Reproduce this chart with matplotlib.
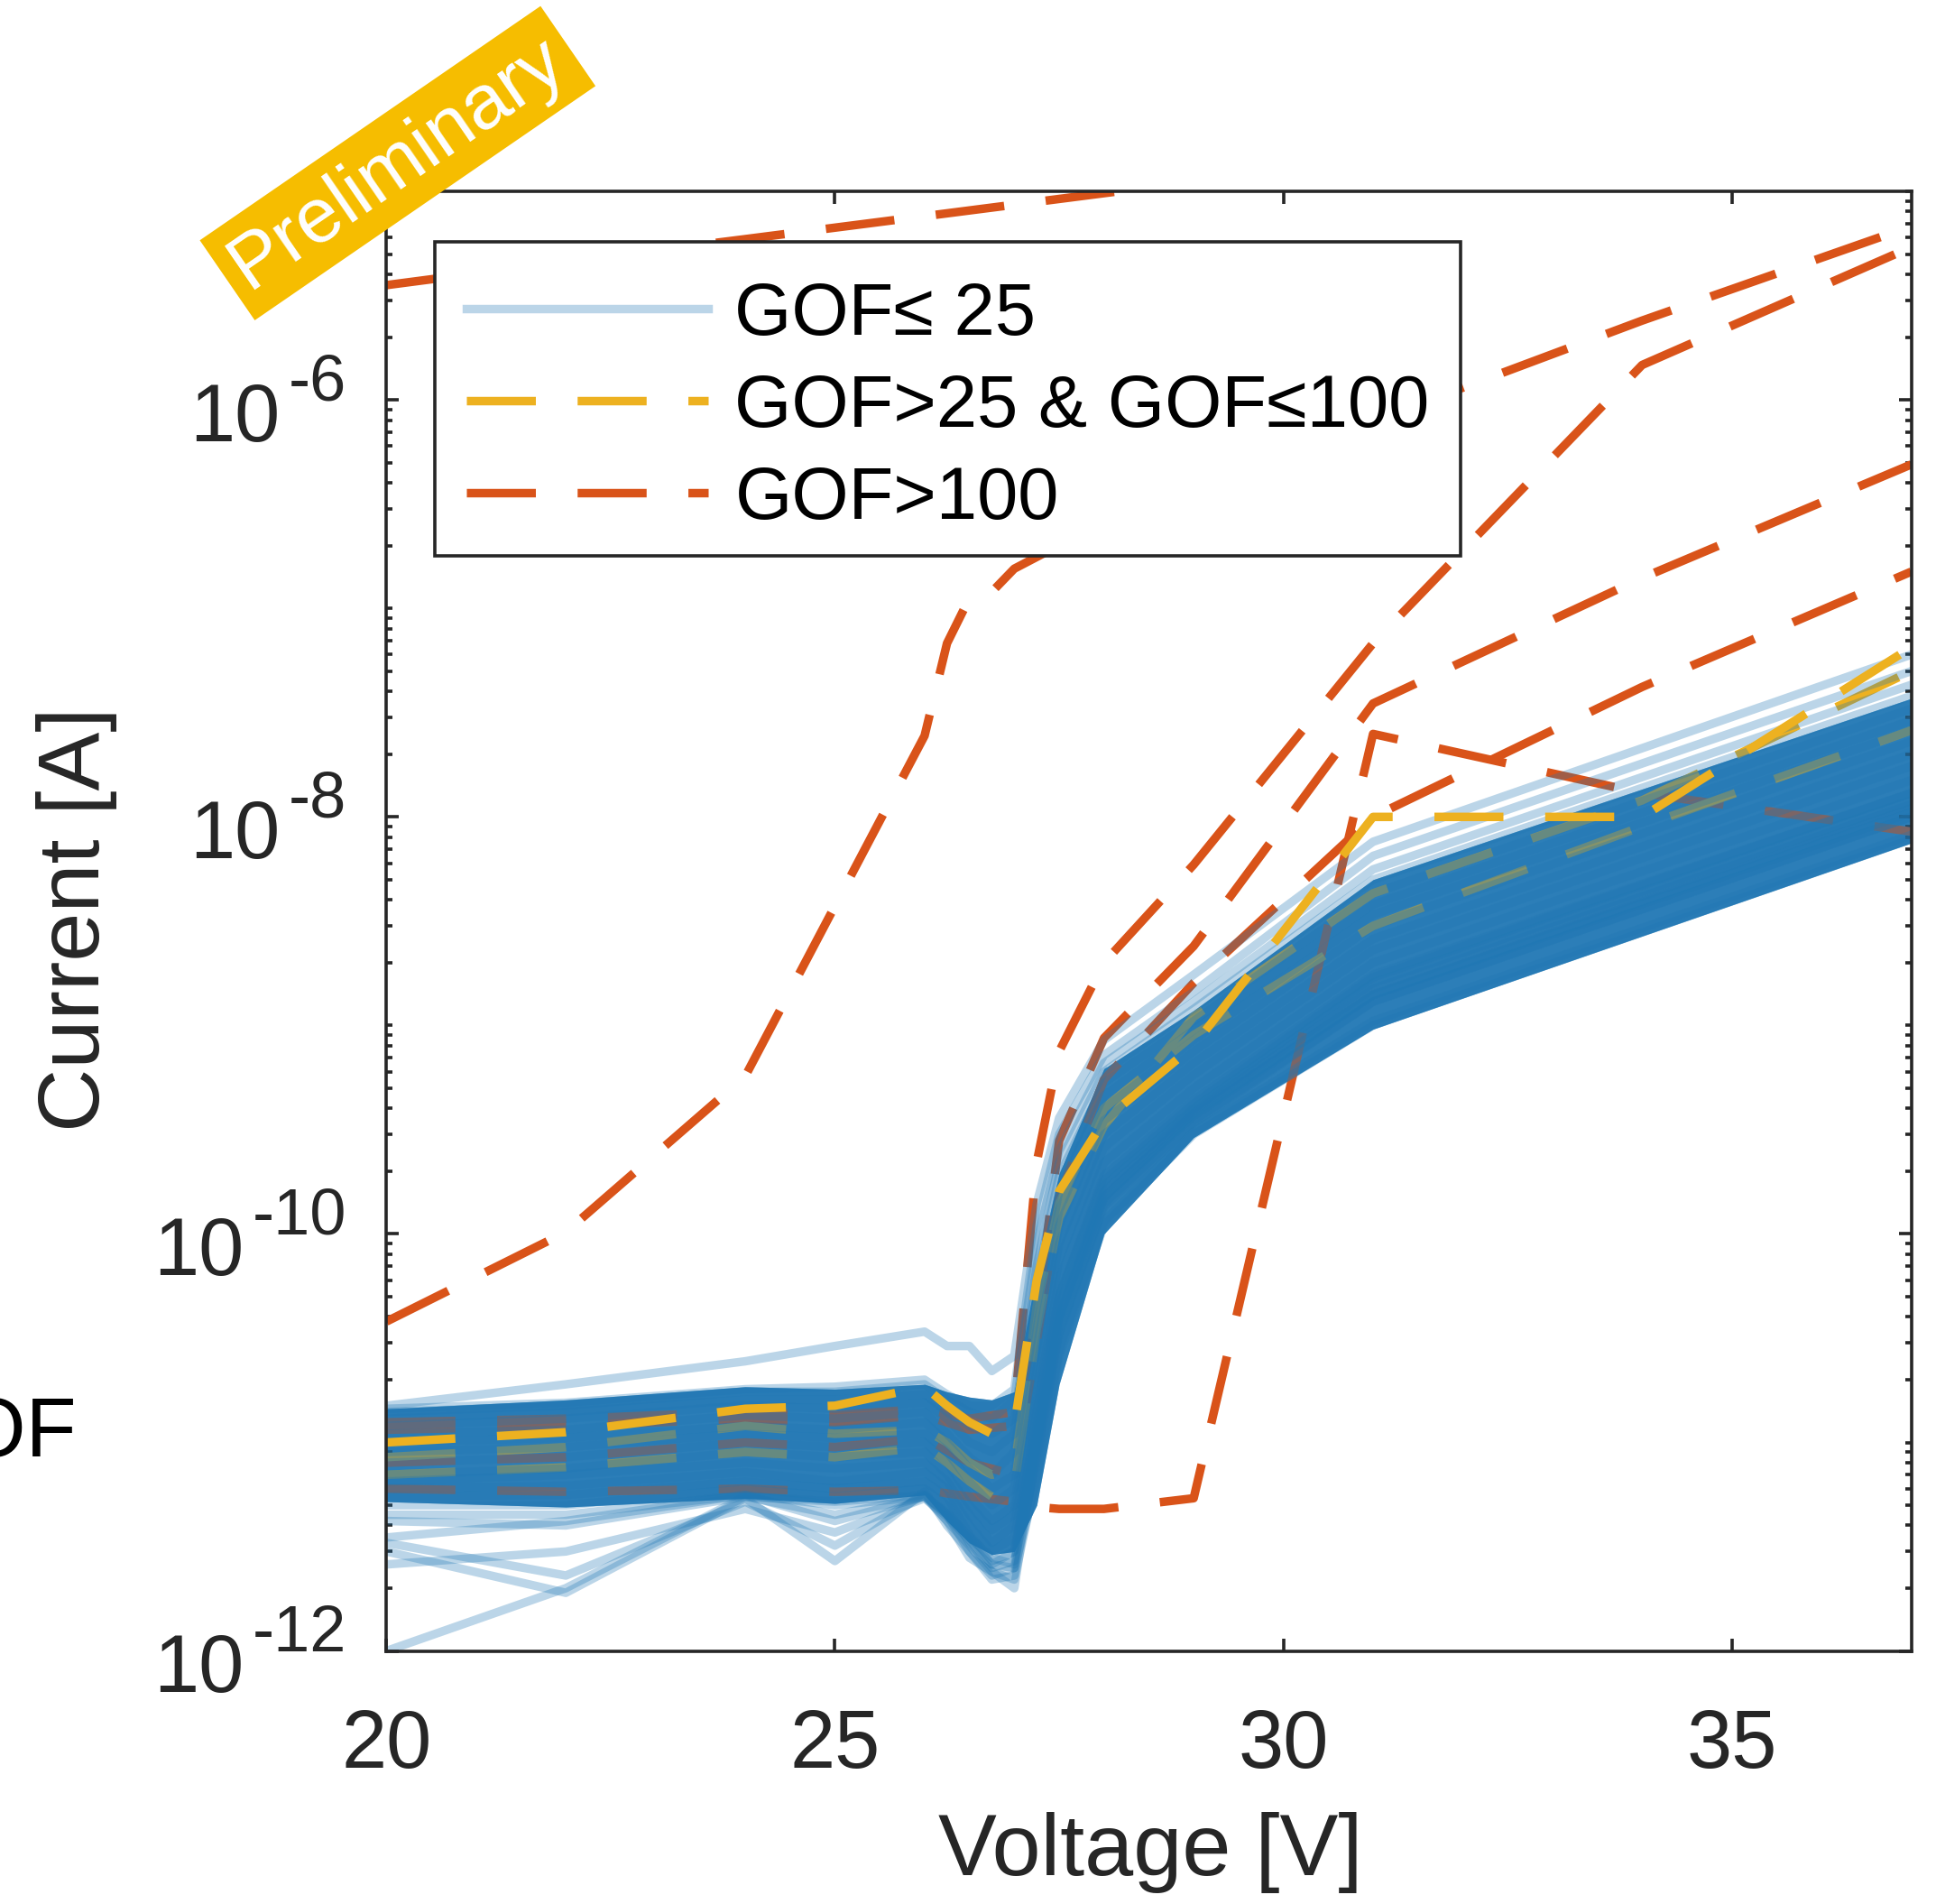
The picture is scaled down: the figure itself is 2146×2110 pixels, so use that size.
import matplotlib
matplotlib.use('Agg')
import matplotlib.pyplot as plt
from matplotlib.ticker import FixedLocator, LogLocator, NullFormatter
import matplotlib.transforms as mtransforms
import numpy as np

plt.rcParams['font.family'] = ['Liberation Sans', 'DejaVu Sans']

# ---------------- data ----------------
x_ticks = [20, 25, 30, 35]
y_ticks = [1e-12, 1e-10, 1e-8, 1e-6]
y_tick_exponents = ['-12', '-10', '-8', '-6']
legend_labels = ['GOF\u2264 25', 'GOF>25 & GOF\u2264100', 'GOF>100']

voltage_blue = [20, 22, 24, 25, 26, 26.25, 26.5, 26.75, 27, 27.25, 27.5, 28, 29, 31, 37]
band_upper = [1.45e-11, 1.6e-11, 1.85e-11, 1.8e-11, 1.9e-11, 1.75e-11, 1.65e-11, 1.6e-11, 1.75e-11,
              6.6e-11, 1.95e-10, 6.2e-10, 1.18e-9, 5.0e-9, 3.7e-8]
band_lower = [5.2e-12, 4.9e-12, 5.4e-12, 5.1e-12, 5.6e-12, 4.2e-12, 3.3e-12, 2.9e-12, 3.0e-12,
              5.0e-12, 1.9e-11, 1.0e-10, 2.9e-10, 9.6e-10, 7.5e-9]

blue_01 = [1.5e-11, 1.9e-11, 2.45e-11, 2.9e-11, 3.4e-11, 2.9e-11, 2.9e-11, 2.2e-11, 2.6e-11, 1.4e-10, 3.6e-10, 8.5e-10, 1.75e-9, 7.6e-9, 6.0e-8]
blue_02 = [1.45e-11, 1.55e-11, 1.8e-11, 1.85e-11, 2.0e-11, 1.7e-11, 1.5e-11, 1.5e-11, 1.8e-11, 1.1e-10, 3.0e-10, 7.2e-10, 1.45e-9, 6.5e-9, 5.0e-8]
blue_03 = [1.4e-11, 1.5e-11, 1.75e-11, 1.75e-11, 1.9e-11, 1.6e-11, 1.4e-11, 1.3e-11, 1.6e-11, 9e-11, 2.5e-10, 6.6e-10, 1.3e-9, 5.6e-9, 4.3e-8]
blue_04 = [1.3e-11, 1.4e-11, 1.6e-11, 1.6e-11, 1.7e-11, 1.4e-11, 1.2e-11, 1.1e-11, 1.3e-11, 7e-11, 2.2e-10, 6.0e-10, 1.2e-9, 5.0e-9, 3.8e-8]
blue_05 = [1.2e-11, 1.3e-11, 1.5e-11, 1.45e-11, 1.55e-11, 1.3e-11, 1.0e-11, 9e-12, 1.1e-11, 6e-11, 1.9e-10, 5.3e-10, 1.05e-9, 4.3e-9, 3.3e-8]
blue_06 = [1.1e-11, 1.15e-11, 1.35e-11, 1.3e-11, 1.4e-11, 1.1e-11, 8.5e-12, 7e-12, 9e-12, 4.5e-11, 1.6e-10, 4.6e-10, 9.5e-10, 3.8e-9, 2.9e-8]
blue_07 = [1.0e-11, 1.05e-11, 1.2e-11, 1.15e-11, 1.25e-11, 1.0e-11, 7.5e-12, 6e-12, 7e-12, 3.5e-11, 1.3e-10, 4.0e-10, 8.5e-10, 3.4e-9, 2.6e-8]
blue_08 = [9e-12, 9.5e-12, 1.1e-11, 1.05e-11, 1.1e-11, 9e-12, 6.5e-12, 5e-12, 6e-12, 2.8e-11, 1.1e-10, 3.5e-10, 7.5e-10, 3.0e-9, 2.3e-8]
blue_09 = [8e-12, 8.5e-12, 1.0e-11, 9.5e-12, 1.0e-11, 8e-12, 5.5e-12, 4.2e-12, 5e-12, 2.2e-11, 9e-11, 3.0e-10, 6.6e-10, 2.6e-9, 2.0e-8]
blue_10 = [7e-12, 7.5e-12, 9e-12, 8.5e-12, 9e-12, 7e-12, 5e-12, 3.8e-12, 4.5e-12, 1.8e-11, 7.5e-11, 2.6e-10, 5.8e-10, 2.3e-9, 1.75e-8]
blue_11 = [6.5e-12, 7e-12, 8e-12, 7.5e-12, 8e-12, 6.5e-12, 4.5e-12, 3.3e-12, 4e-12, 1.5e-11, 6e-11, 2.2e-10, 5.0e-10, 2.0e-9, 1.5e-8]
blue_12 = [6e-12, 6.2e-12, 7.2e-12, 6.5e-12, 7.2e-12, 6e-12, 4e-12, 3e-12, 3.5e-12, 1.2e-11, 5e-11, 1.9e-10, 4.4e-10, 1.75e-9, 1.3e-8]
blue_13 = [5.5e-12, 5.6e-12, 6.5e-12, 6e-12, 6.5e-12, 5.5e-12, 3.6e-12, 2.7e-12, 3.0e-12, 1.0e-11, 4e-11, 1.6e-10, 3.9e-10, 1.5e-9, 1.15e-8]
blue_14 = [5e-12, 5e-12, 6e-12, 5.5e-12, 6e-12, 5e-12, 3.3e-12, 2.5e-12, 2.7e-12, 8e-12, 3.3e-11, 1.35e-10, 3.4e-10, 1.3e-9, 1.0e-8]
blue_15 = [4.5e-12, 4.5e-12, 5.6e-12, 5e-12, 5.5e-12, 4.5e-12, 3.0e-12, 2.3e-12, 2.5e-12, 6.5e-12, 2.6e-11, 1.1e-10, 3.0e-10, 1.0e-9, 7.8e-9]
blue_16 = [4.2e-12, 4.0e-12, 5.5e-12, 4.5e-12, 5.5e-12, 4.2e-12, 2.8e-12, 2.4e-12, 2.2e-12, 7e-12, 2.8e-11, 1.15e-10, 3.1e-10, 1.05e-9, 8.2e-9]
blue_17 = [1.0e-12, 2.0e-12, 5.5e-12, 5.2e-12, 5.6e-12, 4.5e-12, 3.5e-12, 2.6e-12, 3e-12, 1.1e-11, 4e-11, 1.5e-10, 3.8e-10, 1.4e-9, 1.1e-8]
blue_18 = [3.0e-12, 1.9e-12, 5.4e-12, 2.7e-12, 5.8e-12, 4.0e-12, 3.0e-12, 2.2e-12, 2.3e-12, 9e-12, 3.5e-11, 1.4e-10, 3.5e-10, 1.3e-9, 1.0e-8]
blue_19 = [3.3e-12, 2.3e-12, 5.2e-12, 3.2e-12, 5.6e-12, 4.2e-12, 3.2e-12, 2.4e-12, 2.0e-12, 1.0e-11, 3.8e-11, 1.5e-10, 3.7e-10, 1.4e-9, 1.05e-8]
blue_20 = [2.6e-12, 3.0e-12, 4.8e-12, 3.7e-12, 5.4e-12, 4.4e-12, 3.4e-12, 2.6e-12, 2.5e-12, 1.2e-11, 4.5e-11, 1.7e-10, 4.0e-10, 1.6e-9, 1.2e-8]
blue_21 = [3.5e-12, 4.2e-12, 5.6e-12, 4.2e-12, 5.5e-12, 4.6e-12, 3.5e-12, 2.8e-12, 2.6e-12, 1.4e-11, 5e-11, 1.8e-10, 4.2e-10, 1.7e-9, 1.3e-8]

voltage_yellow = [20, 22, 24, 25, 26, 26.25, 26.5, 26.75, 27, 27.25, 27.5, 28, 29, 31, 34, 37]
yellow_1 = [1.0e-11, 1.12e-11, 1.45e-11, 1.5e-11, 1.85e-11, 1.5e-11, 1.25e-11, 1.1e-11, 1.2e-11, 6.0e-11, 1.6e-10, 3.5e-10, 8.0e-10, 1.0e-8, 1.0e-8, 6.5e-8]
yellow_2 = [7.0e-12, 7.6e-12, 9.0e-12, 8.5e-12, 9.5e-12, 8.0e-12, 6.5e-12, 5.5e-12, 6.0e-12, 3.5e-11, 1.2e-10, 3.3e-10, 1.1e-9, 4.3e-9, 1.2e-8, 5.0e-8]
yellow_3 = [8.5e-12, 9.5e-12, 1.2e-11, 1.1e-11, 1.15e-11, 1.0e-11, 8e-12, 7e-12, 7.5e-12, 4.5e-11, 1.4e-10, 4.0e-10, 9.0e-10, 3.0e-9, 9e-9, 2.6e-8]

voltage_orange_top = [20, 22, 24, 26, 28, 30, 34, 37]
orange_1 = [3.55e-6, 4.6e-6, 5.9e-6, 7.6e-6, 9.8e-6, 1.26e-5, 2.0e-5, 2.8e-5]
voltage_orange_2 = [20, 22, 24, 26, 26.25, 26.5, 26.75, 27, 28, 29, 31, 34, 37]
orange_2 = [3.8e-11, 1.02e-10, 5.7e-10, 2.45e-8, 6.8e-8, 1.12e-7, 1.2e-7, 1.55e-7, 2.6e-7, 3.8e-7, 7.9e-7, 2.4e-6, 6.8e-6]
voltage_orange = [20, 22, 24, 25, 26, 26.5, 27, 27.25, 27.5, 28, 29, 31, 34, 37]
orange_3 = [1.25e-11, 1.3e-11, 1.4e-11, 1.35e-11, 1.45e-11, 1.3e-11, 1.4e-11, 2.2e-10, 7.5e-10, 2.0e-9, 5.9e-9, 6.8e-8, 1.47e-6, 5.4e-6]
orange_4 = [1.15e-11, 1.2e-11, 1.3e-11, 1.25e-11, 1.35e-11, 1.15e-11, 1.2e-11, 4.0e-11, 2.8e-10, 8.7e-10, 2.4e-9, 3.5e-8, 1.4e-7, 4.9e-7]
orange_5 = [8e-12, 8.5e-12, 1.0e-11, 9.5e-12, 1.05e-11, 8e-12, 7e-12, 3e-11, 1.5e-10, 5.5e-10, 1.6e-9, 1.0e-8, 4.2e-8, 1.5e-7]
orange_6 = [6.0e-12, 5.8e-12, 6.0e-12, 5.8e-12, 5.9e-12, 5.5e-12, 5.2e-12, 4.9e-12, 4.8e-12, 4.8e-12, 5.4e-12, 2.5e-8, 1.3e-8, 8.5e-9]

# ---------------- style ----------------
BLUE = '#1f77b4'
ORANGE = '#D95319'
YELLOW = '#EDB120'
DARK = '#262626'
LW = 3.4
DASH = (8.1, 4.9)

fig = plt.figure(figsize=(10.73, 10.55), dpi=200)
ax = fig.add_axes([0.1996, 0.1329, 0.7876, 0.7666])
ax.set_yscale('log')
ax.set_xlim(20, 37)
ax.set_ylim(1e-12, 1e-5)

# dense core of the GOF<=25 family
ax.fill_between(voltage_blue, band_lower, band_upper, color=BLUE, alpha=0.88, lw=0, zorder=1)

# GOF>100 curves
orange_handles = []
orange_handles += ax.plot(voltage_orange_top, orange_1, color=ORANGE, lw=LW, dashes=DASH, zorder=2)
orange_handles += ax.plot(voltage_orange_2, orange_2, color=ORANGE, lw=LW, dashes=DASH, zorder=2)
for curve in [orange_3, orange_4, orange_5, orange_6]:
    orange_handles += ax.plot(voltage_orange, curve, color=ORANGE, lw=LW, dashes=DASH, zorder=2)

# GOF 25..100 curves (two of them underneath the blue family)
yellow_handles = []
for curve in [yellow_2, yellow_3]:
    yellow_handles += ax.plot(voltage_yellow, curve, color=YELLOW, lw=LW, dashes=DASH, zorder=2)

# blue overlay that mutes the curves running through the dense core
ax.fill_between(voltage_blue, band_lower, band_upper, color=BLUE, alpha=0.5, lw=0, zorder=2.5)

# GOF<=25 curves
blue_handles = []
for curve in [blue_01, blue_02, blue_03, blue_04, blue_05, blue_06, blue_07, blue_08, blue_09, blue_10,
              blue_11, blue_12, blue_13, blue_14, blue_15, blue_16, blue_17, blue_18, blue_19, blue_20, blue_21]:
    blue_handles += ax.plot(voltage_blue, curve, color=BLUE, alpha=0.3, lw=LW, zorder=3,
                            solid_joinstyle='round')

yellow_handles.insert(0, ax.plot(voltage_yellow, yellow_1, color=YELLOW, lw=LW, dashes=DASH, zorder=4)[0])

# ---------------- axes styling ----------------
ax.xaxis.set_major_locator(FixedLocator(x_ticks))
ax.set_xticklabels([str(t) for t in x_ticks])
ax.yaxis.set_major_locator(FixedLocator(y_ticks))
ax.yaxis.set_major_formatter(NullFormatter())
ax.yaxis.set_minor_locator(LogLocator(base=10, subs=np.arange(1, 10), numticks=50))
ax.yaxis.set_minor_formatter(NullFormatter())

for s in ax.spines.values():
    s.set_color(DARK)
    s.set_linewidth(1.3)
    s.set_zorder(6)

ax.tick_params(axis='both', which='both', direction='in', top=True, right=True,
               colors=DARK, labelcolor=DARK, width=1.3)
ax.tick_params(axis='both', which='major', length=5, labelsize=32.5)
ax.tick_params(axis='y', which='minor', length=2.6)
ax.tick_params(axis='x', which='major', pad=23)

# y tick labels in the "10 with raised exponent" style
ytrans = mtransforms.blended_transform_factory(ax.transAxes, ax.transData)
for yv, ex in zip(y_ticks, y_tick_exponents):
    exp_text = ax.annotate(ex, xy=(0, yv), xycoords=ytrans, xytext=(-16.0, 0), textcoords='offset points',
                           ha='right', va='baseline', fontsize=26, color=DARK, annotation_clip=False)
    ax.annotate('10', xy=(0, 0), xycoords=exp_text, xytext=(-3.2, -11.0), textcoords='offset points',
                ha='right', va='baseline', fontsize=32.5, color=DARK, annotation_clip=False)

ax.set_xlabel('Voltage [V]', fontsize=35, color=DARK)
ax.set_ylabel('Current [A]', fontsize=35, color=DARK)
ax.xaxis.set_label_coords(0.501, -0.138)
ax.xaxis.label.set_va('center')
ax.yaxis.set_label_coords(-0.203, 0.501)
ax.yaxis.label.set_va('center')

leg = ax.legend(handles=[blue_handles[0], yellow_handles[0], orange_handles[0]], labels=legend_labels,
                loc='upper left', bbox_to_anchor=(0.032, 0.9654), borderaxespad=0,
                fontsize=29.3, frameon=True, fancybox=False, edgecolor=DARK, framealpha=1,
                handlelength=3.3, handletextpad=0.36, labelspacing=0.32, borderpad=0.42)
leg.get_frame().set_linewidth(1.3)
leg.set_zorder(10)
# lower the rows slightly inside the frame (text sits lower in the reference box)
ROW_SHIFT_PT = 3.4
for t in leg.get_texts():
    t.set_color('black')
    t.set_y(t.get_position()[1] - ROW_SHIFT_PT * fig.dpi / 72.0)
for h in leg.legend_handles:
    if hasattr(h, 'set_ydata'):
        h.set_ydata(np.asarray(h.get_ydata(), dtype=float) - ROW_SHIFT_PT)

# clipped label at the left edge
fig.text(85 / 2146, 1 - 1590 / 2110, 'GOF', ha='right', va='center', fontsize=33, color='black')

# preliminary banner
fig.text(0.2054, 0.9143, 'Preliminary', rotation=34.5, rotation_mode='anchor', ha='center', va='center',
         color='white', fontsize=31,
         bbox=dict(boxstyle='square,pad=0.16', fc='#F6BD00', ec='none'))

fig.savefig('out.png', dpi=200)
